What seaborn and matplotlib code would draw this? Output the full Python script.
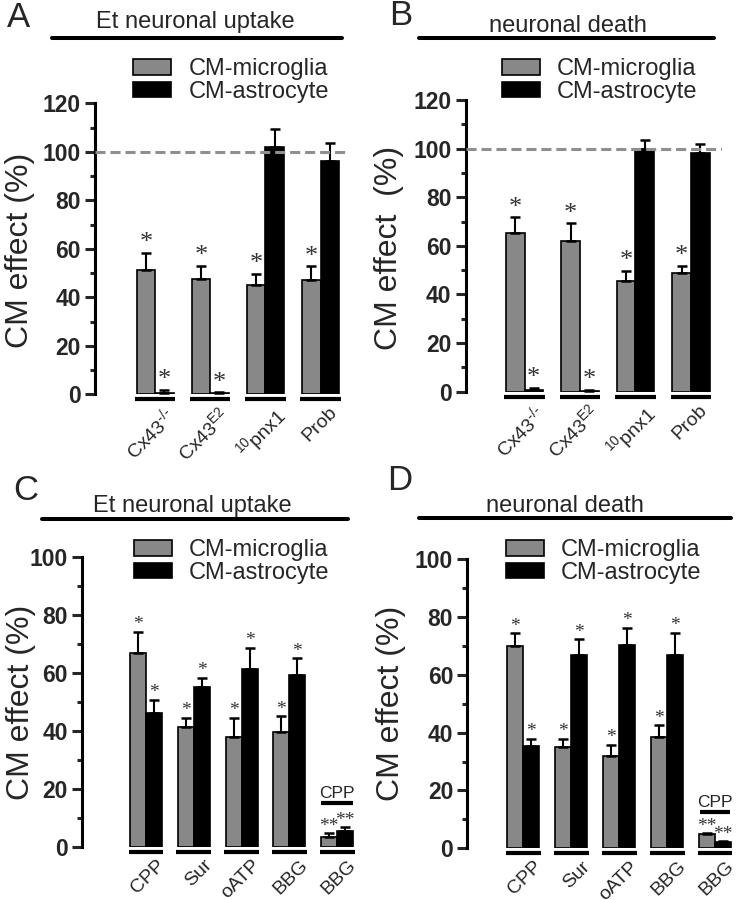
import numpy as np
import pandas as pd
import seaborn as sns
import matplotlib.pyplot as plt
from matplotlib.patches import Patch
from matplotlib.lines import Line2D
from matplotlib import transforms

# ======================================
# DATA (% of control)
# ======================================
SERIES = ["CM-microglia", "CM-astrocyte"]

groups_ab = ["Cx43$^{\u2010/\u2010}$", "Cx43$^{E2}$", "$^{10}$pnx1", "Prob"]
uptake_ab_micro = [51.4, 47.4, 45.2, 47.0]
uptake_ab_micro_err = [6.9, 5.5, 4.5, 5.8]
uptake_ab_astro = [0.7, 0.4, 102.1, 96.3]
uptake_ab_astro_err = [1.1, 0.5, 7.4, 7.2]

death_ab_micro = [65.1, 62.1, 45.7, 48.7]
death_ab_micro_err = [6.6, 7.2, 4.1, 3.2]
death_ab_astro = [0.5, 0.3, 100.0, 98.0]
death_ab_astro_err = [1.0, 0.5, 3.4, 4.1]

sig_ab_micro = ["*", "*", "*", "*"]
sig_ab_astro = ["*", "*", "", ""]

groups_cd = ["CPP", "Sur", "oATP", "BBG", "BBG"]
uptake_cd_micro = [67.0, 41.5, 37.8, 39.5, 3.5]
uptake_cd_micro_err = [7.2, 3.1, 6.8, 5.6, 1.1]
uptake_cd_astro = [46.3, 55.3, 61.5, 59.4, 5.4]
uptake_cd_astro_err = [4.4, 3.0, 7.2, 5.7, 1.3]

death_cd_micro = [70.0, 34.9, 31.9, 38.6, 4.9]
death_cd_micro_err = [4.3, 3.0, 3.9, 3.9, 0.3]
death_cd_astro = [35.5, 66.9, 70.3, 66.8, 2.1]
death_cd_astro_err = [2.3, 5.3, 6.0, 7.7, 0.3]

sig_cd_micro = ["*", "*", "*", "*", "**"]
sig_cd_astro = ["*", "*", "*", "*", "**"]

# ======================================
# STYLE
# ======================================
W, H = 738, 900
GRAY = "#888888"
PALETTE = {SERIES[0]: GRAY, SERIES[1]: "black"}

sns.set_theme(style="white")
plt.rcParams["font.family"] = ["Liberation Sans", "DejaVu Sans"]
plt.rcParams["mathtext.default"] = "regular"

fig = plt.figure(figsize=(W / 100, H / 100), dpi=100)


def fx(px):
    return px / W


def fy(py):
    return 1 - py / H


def make_axes(spine_x, right_x, y_zero, y_top):
    return fig.add_axes([fx(spine_x), fy(y_zero), (right_x - spine_x) / W, (y_zero - y_top) / H])


def draw_panel(ax, groups, micro, micro_err, astro, astro_err, sig_micro, sig_astro,
               ymax, xlim, star_size, label_dx):
    n = len(groups)
    df = pd.DataFrame({
        "group": list(range(n)) * 2,
        "series": [SERIES[0]] * n + [SERIES[1]] * n,
        "value": micro + astro,
    })
    sns.barplot(data=df, x="group", y="value", hue="series", hue_order=SERIES,
                palette=PALETTE, width=0.67, errorbar=None, edgecolor="black",
                linewidth=1.2, legend=False, ax=ax)

    # upper-only error bars + significance stars on top of each bar
    for cont, errs, sigs in zip(ax.containers, [micro_err, astro_err], [sig_micro, sig_astro]):
        xs = np.array([p.get_x() + p.get_width() / 2 for p in cont])
        hs = np.array([p.get_height() for p in cont])
        ax.errorbar(xs, hs, yerr=[np.zeros(n), errs], fmt="none", ecolor="black",
                    elinewidth=1.5, capsize=3.6, capthick=1.8, zorder=3)
        for x, h, e, s in zip(xs, hs, errs, sigs):
            if s:
                ax.annotate(s, (x, h + e), xytext=(0, -1), textcoords="offset points",
                            ha="center", va="bottom", fontsize=star_size,
                            family="Liberation Serif", color="#333333")

    # thick line under each group of bars
    under = transforms.offset_copy(ax.transData, fig=fig, y=-5, units="dots")
    for pm, pa in zip(ax.containers[0], ax.containers[1]):
        x0 = pm.get_x() - 0.03
        x1 = pa.get_x() + pa.get_width() + 0.03
        ax.plot([x0, x1], [0, 0], color="black", lw=3, solid_capstyle="butt",
                transform=under, clip_on=False)

    ax.set_xlim(*xlim)
    ax.set_ylim(0, ymax)
    ax.set_yticks(np.arange(0, ymax + 1, 20))
    ax.set_yticks(np.arange(0, ymax + 1, 10), minor=True)
    ax.tick_params(axis="y", which="major", length=7.2, width=2.2, labelsize=16.5,
                   left=True, direction="out", pad=3)
    ax.tick_params(axis="y", which="minor", length=3.6, width=2.2, left=True)
    for t in ax.get_yticklabels():
        t.set_fontweight("bold")
    ax.set_xticks(range(n))
    ax.set_xticklabels(groups, rotation=45, ha="right", rotation_mode="anchor", fontsize=14)
    ax.tick_params(axis="x", length=0, pad=7)
    shift = transforms.ScaledTranslation(label_dx / 100, 0, fig.dpi_scale_trans)
    for t in ax.get_xticklabels():
        t.set_transform(t.get_transform() + shift)
    ax.set_xlabel("")
    ax.set_ylabel("")
    for side in ["top", "right", "bottom"]:
        ax.spines[side].set_visible(False)
    ax.spines["left"].set_linewidth(2.2)
    ax.spines["left"].set_color("black")
    ax.grid(False)


def add_legend(ax, left_px, top_px):
    handles = [Patch(facecolor=GRAY, edgecolor="black", lw=1.2),
               Patch(facecolor="black", edgecolor="black", lw=1.2)]
    ax.legend(handles, SERIES, loc="upper left", bbox_to_anchor=(fx(left_px), fy(top_px)),
              bbox_transform=fig.transFigure, frameon=False, fontsize=17,
              handlelength=1.59, handleheight=0.64, handletextpad=0.75,
              labelspacing=0.03, borderpad=0, borderaxespad=0)


def add_header(letter, lx, lbase, title, tx, tbase, x0, x1, ly, ylabel, yx, yy):
    fig.text(fx(lx), fy(lbase), letter, fontsize=25, va="baseline", ha="left")
    fig.text(fx(tx), fy(tbase), title, fontsize=17, va="baseline", ha="center")
    fig.add_artist(Line2D([fx(x0), fx(x1)], [fy(ly), fy(ly)], color="black", lw=2.9,
                          transform=fig.transFigure))
    fig.text(fx(yx), fy(yy), ylabel, fontsize=23, rotation=90, ha="center", va="center")


DASH = (0, (3.3, 1.6))

# ======================================
# PANEL A
# ======================================
axA = make_axes(95, 347, 394.3, 103.3)
draw_panel(axA, groups_ab, uptake_ab_micro, uptake_ab_micro_err, uptake_ab_astro,
           uptake_ab_astro_err, sig_ab_micro, sig_ab_astro, 120, (-1.09, 3.48), 19, 8)
axA.axhline(100, color="#8f8f8f", lw=2.2, ls=DASH, zorder=4)
add_legend(axA, 133, 58)
add_header("A", 7, 27, "Et neuronal uptake", 195, 28, 52, 342, 38, "CM effect (%)", 20, 250)

# ======================================
# PANEL B
# ======================================
axB = make_axes(465.7, 722, 391.7, 100)
draw_panel(axB, groups_ab, death_ab_micro, death_ab_micro_err, death_ab_astro,
           death_ab_astro_err, sig_ab_micro, sig_ab_astro, 120, (-1.06, 3.56), 19, 8)
axB.axhline(100, color="#8f8f8f", lw=2.2, ls=DASH, zorder=4)
add_legend(axB, 502, 58)
add_header("B", 389, 25, "neuronal death", 568, 32, 419, 714, 38, "CM effect  (%)", 389, 248)

# ======================================
# PANEL C
# ======================================
axC = make_axes(82, 360, 846.7, 557.3)
draw_panel(axC, groups_cd, uptake_cd_micro, uptake_cd_micro_err, uptake_cd_astro,
           uptake_cd_astro_err, sig_cd_micro, sig_cd_astro, 100, (-1.34, 4.48), 14, 10)
add_legend(axC, 134, 539)
add_header("C", 13, 500, "Et neuronal uptake", 192, 511.7, 42, 348, 519, "CM effect (%)", 21, 702)
axC.text(4, 16.7, "CPP", ha="center", va="baseline", fontsize=12.5)
axC.plot([4 - 0.33, 4 + 0.33], [15.0, 15.0], color="black", lw=3, solid_capstyle="butt")

# ======================================
# PANEL D
# ======================================
axD = make_axes(467.3, 738, 848.3, 559)
draw_panel(axD, groups_cd, death_cd_micro, death_cd_micro_err, death_cd_astro,
           death_cd_astro_err, sig_cd_micro, sig_cd_astro, 100, (-1.17, 4.48), 14, 10)
add_legend(axD, 506, 539)
add_header("D", 387, 490, "neuronal death", 565, 511.7, 419, 731, 518, "CM effect (%)", 391, 703)
axD.text(4, 14.4, "CPP", ha="center", va="baseline", fontsize=12.5, clip_on=False)
axD.plot([4 - 0.32, 4 + 0.32], [12.5, 12.5], color="black", lw=3, solid_capstyle="butt",
         clip_on=False)

fig.savefig("out.png", dpi=100)
